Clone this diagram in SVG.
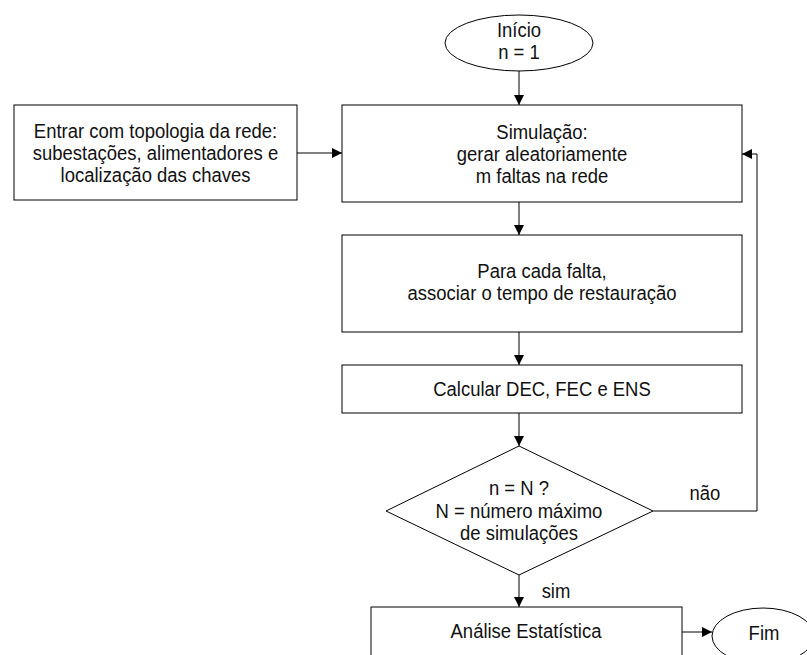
<svg xmlns="http://www.w3.org/2000/svg" width="807" height="655" viewBox="0 0 807 655">
<defs>
<marker id="arr" viewBox="0 0 10 10" refX="10" refY="5" markerWidth="10" markerHeight="10" markerUnits="userSpaceOnUse" orient="auto">
<path d="M0,0 L10,5 L0,10 z" fill="#000"/>
</marker>
<style>
.s{fill:#fff;stroke:#000;stroke-width:1}
.t{font-family:"Liberation Sans",Arial,sans-serif;font-size:21px;fill:#111;text-anchor:middle;transform-box:fill-box;transform-origin:center;transform:scaleX(0.88)}
.c{fill:none;stroke:#000;stroke-width:1}
</style>
</defs>
<rect width="807" height="655" fill="#fff"/>
<g id="connectors">
<line class="c" x1="519" y1="71" x2="519" y2="105" marker-end="url(#arr)"/>
<line class="c" x1="297" y1="153" x2="342" y2="153" marker-end="url(#arr)"/>
<line class="c" x1="519" y1="202" x2="519" y2="235" marker-end="url(#arr)"/>
<line class="c" x1="519" y1="332" x2="519" y2="365" marker-end="url(#arr)"/>
<line class="c" x1="519" y1="413" x2="519" y2="446" marker-end="url(#arr)"/>
<line class="c" x1="519" y1="575" x2="519" y2="607" marker-end="url(#arr)"/>
<polyline class="c" points="653,511 757,511 757,154 742,154" marker-end="url(#arr)"/>
<line class="c" x1="682" y1="632" x2="712" y2="632" marker-end="url(#arr)"/>
<text class="t" x="705" y="500">não</text>
<text class="t" x="556" y="598">sim</text>
</g>
<g id="inicio">
<ellipse class="s" cx="519" cy="43" rx="74" ry="28"/>
<text class="t" x="519" y="37">Início</text>
<text class="t" x="519" y="59">n = 1</text>
</g>
<g id="topologia">
<rect class="s" x="14" y="105" width="283" height="95"/>
<text class="t" x="155.5" y="138">Entrar com topologia da rede:</text>
<text class="t" x="155.5" y="160">subestações, alimentadores e</text>
<text class="t" x="155.5" y="182">localização das chaves</text>
</g>
<g id="simulacao">
<rect class="s" x="342" y="105" width="400" height="97"/>
<text class="t" x="542" y="139">Simulação:</text>
<text class="t" x="542" y="161">gerar aleatoriamente</text>
<text class="t" x="542" y="183">m faltas na rede</text>
</g>
<g id="restauracao">
<rect class="s" x="342" y="235" width="400" height="97"/>
<text class="t" x="542" y="278">Para cada falta,</text>
<text class="t" x="542" y="300">associar o tempo de restauração</text>
</g>
<g id="calcular">
<rect class="s" x="342" y="365" width="400" height="48"/>
<text class="t" x="542" y="396">Calcular DEC, FEC e ENS</text>
</g>
<g id="decisao">
<polygon class="s" points="519,446 653,511 519,575 386,511"/>
<text class="t" x="519" y="495">n = N ?</text>
<text class="t" x="519" y="518">N = número máximo</text>
<text class="t" x="519" y="540">de simulações</text>
</g>
<g id="analise">
<rect class="s" x="371" y="607" width="311" height="60"/>
<text class="t" x="526" y="638">Análise Estatística</text>
</g>
<g id="fim">
<ellipse class="s" cx="763" cy="636" rx="51" ry="28"/>
<text class="t" x="764" y="640">Fim</text>
</g>
</svg>
